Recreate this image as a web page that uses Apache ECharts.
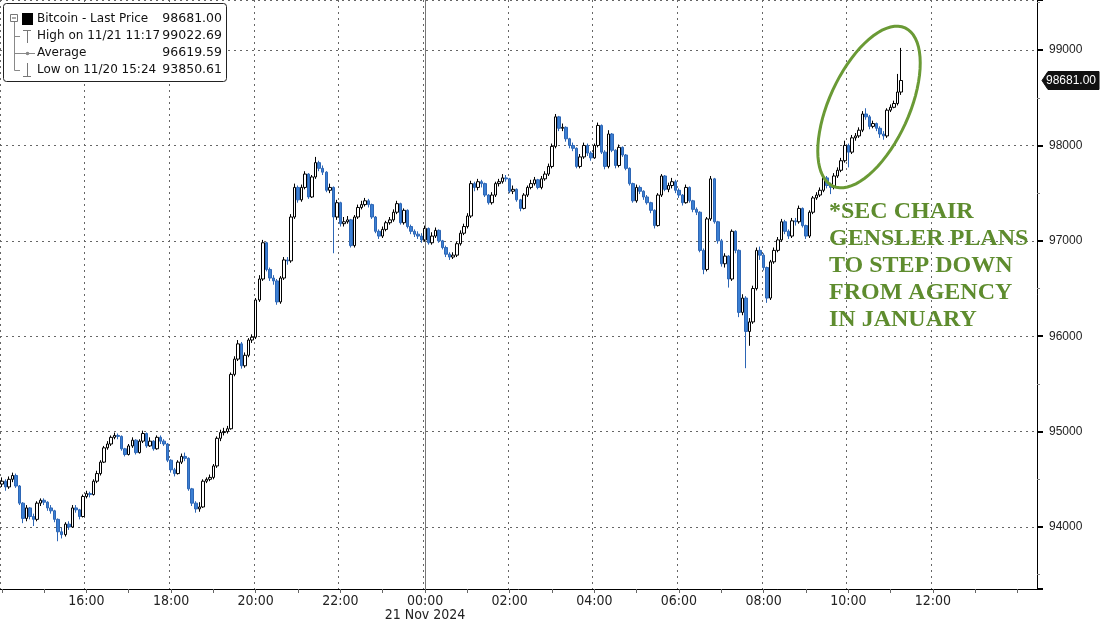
<!DOCTYPE html>
<html>
<head>
<meta charset="utf-8">
<script src="https://cdn.jsdelivr.net/npm/echarts@6/dist/echarts.min.js"></script>
<style>html,body{margin:0;padding:0;background:#fff}#c{width:1100px;height:623px}</style>
</head>
<body>
<div id="c"></div>
<script>
// 5-minute bars starting 11/20 14:00
const firstOpen = 94450;
const closes = [94480,94420,94500,94540,94430,94250,94090,94200,94110,94080,
94250,94280,94260,94200,94170,94080,93950,93920,94030,94000,
94200,94180,94110,94320,94350,94340,94480,94560,94680,94830,
94870,94940,94960,94950,94820,94760,94850,94910,94780,94900,
94980,94850,94900,94820,94940,94900,94870,94700,94600,94560,
94680,94740,94720,94400,94250,94190,94210,94480,94500,94520,
94640,94930,94990,95000,95030,95600,95760,95920,95690,95800,
95960,95990,96380,96600,96980,96700,96610,96580,96360,96610,
96800,96790,97250,97560,97430,97560,97700,97460,97670,97820,
97760,97720,97530,97560,97250,97400,97180,97200,97220,96950,
97250,97350,97380,97420,97380,97250,97100,97050,97120,97190,
97220,97300,97390,97190,97320,97150,97100,97070,97050,97010,
97130,96980,97050,97110,97000,96930,96860,96830,96850,96970,
97080,97150,97260,97600,97560,97620,97600,97480,97400,97480,
97600,97620,97660,97650,97520,97540,97430,97340,97480,97560,
97600,97640,97560,97650,97700,97780,97990,98300,98180,98190,
98070,98000,97970,97780,97880,98000,97920,97870,98000,98210,
97930,97780,98120,97950,97790,97980,97900,97760,97600,97420,
97560,97520,97460,97400,97320,97160,97480,97680,97540,97580,
97620,97530,97480,97400,97560,97420,97330,97300,96900,96700,
97230,97650,97200,97000,96760,96840,96600,97100,96900,96250,
96400,96050,96150,96500,96900,96850,96720,96400,96780,96900,
97010,97200,97100,97050,97210,97200,97340,97160,97050,97300,
97450,97480,97530,97660,97580,97560,97680,97740,97840,98000,
97930,98080,98100,98160,98330,98300,98200,98230,98180,98120,
98100,98370,98400,98440,98560,98681];
const highs = [94520,94500,94530,94570,94560,94440,94260,94230,94210,94140,
94270,94300,94300,94270,94230,94180,94090,93990,94050,94060,
94230,94230,94190,94340,94380,94370,94500,94590,94700,94850,
94900,94960,94990,94980,94960,94830,94870,94940,94920,94920,
95010,94990,94940,94910,94960,94960,94920,94880,94710,94620,
94700,94770,94780,94730,94410,94270,94260,94500,94520,94550,
94660,94950,95020,95040,95060,95620,95790,95960,95940,95830,
95980,96020,96400,96640,97010,96990,96720,96640,96600,96630,
96830,96830,97280,97600,97580,97590,97730,97710,97690,97880,
97840,97790,97730,97600,97570,97430,97410,97250,97260,97230,
97270,97380,97420,97450,97440,97390,97260,97120,97150,97210,
97250,97330,97420,97400,97340,97330,97170,97120,97100,97080,
97160,97140,97090,97140,97120,97010,96950,96880,96880,96990,
97110,97180,97290,97630,97620,97650,97640,97610,97490,97510,
97620,97650,97700,97690,97660,97580,97550,97440,97500,97580,
97640,97670,97650,97680,97730,97810,98020,98330,98310,98230,
98200,98080,98030,97980,97910,98030,98020,97940,98020,98240,
98220,97950,98160,98130,97960,98010,97990,97910,97770,97610,
97590,97580,97530,97480,97410,97330,97500,97700,97690,97610,
97660,97640,97550,97490,97590,97570,97430,97350,97310,96920,
97250,97680,97660,97210,97020,96870,96850,97120,97110,96910,
96440,96420,96190,96530,96930,96940,96870,96730,96800,96930,
97040,97230,97220,97120,97240,97240,97370,97350,97170,97320,
97470,97510,97560,97690,97680,97610,97710,97770,97870,98050,
98020,98110,98130,98190,98360,98390,98320,98260,98240,98200,
98150,98390,98430,98470,98750,99022.69];
const lows = [94420,94380,94400,94470,94410,94230,94040,94060,94080,94010,
94060,94220,94230,94170,94140,94050,93850.61,93880,93900,93970,
93990,94150,94080,94100,94300,94310,94330,94460,94540,94670,
94810,94850,94920,94920,94800,94740,94750,94830,94760,94770,
94880,94830,94840,94800,94810,94870,94850,94680,94570,94530,
94550,94660,94690,94380,94220,94150,94160,94200,94460,94480,
94500,94620,94900,94960,94980,95020,95580,95740,95660,95670,
95780,95930,95970,96360,96580,96680,96580,96540,96330,96340,
96590,96750,96770,97230,97400,97410,97540,97440,97450,97650,
97730,97690,97510,97500,96870,97220,97150,97150,97180,96930,
96930,97230,97330,97360,97350,97230,97080,97020,97030,97100,
97170,97200,97280,97170,97170,97130,97070,97040,97020,96980,
96990,96960,96960,97030,96980,96910,96830,96800,96810,96830,
96950,97060,97130,97240,97520,97530,97560,97460,97380,97380,
97460,97570,97600,97620,97500,97490,97410,97310,97330,97460,
97540,97580,97540,97540,97630,97680,97760,97970,98150,98150,
98040,97970,97940,97760,97760,97860,97890,97840,97860,97980,
97910,97750,97760,97930,97760,97770,97880,97740,97580,97400,
97400,97490,97430,97380,97290,97130,97150,97460,97520,97510,
97550,97500,97450,97370,97390,97400,97300,97270,96880,96650,
96680,97210,97180,96970,96730,96720,96510,96580,96870,96200,
96220,95665,95900,96130,96480,96800,96690,96350,96380,96760,
96880,96990,97070,97020,97030,97160,97180,97140,97020,97030,
97280,97430,97460,97510,97550,97490,97540,97660,97720,97820,
97770,97910,98050,98080,98140,98270,98170,98180,98150,98080,
98060,98080,98350,98390,98420,98530];

const legendLabels = ['Bitcoin - Last Price','High on 11/21 11:17','Average','Low on 11/20 15:24'];
const legendValues = ['98681.00','99022.69','96619.59','93850.61'];
const lastPrice = 98681.00;
const noteLines = ['*SEC CHAIR','GENSLER PLANS','TO STEP DOWN','FROM AGENCY','IN JANUARY'];
const dateLabel = '21 Nov 2024';
const yMin = 93350, yMax = 99525;

// categories: 5-minute slots 11/20 14:00 .. 11/21 14:25
const pad = n => (n < 10 ? '0' : '') + n;
const cats = [];
for (let k = 0; k < 294; k++) {
  const m = 14 * 60 + 5 * k;
  const d = m >= 1440 ? '11/21' : '11/20';
  const mm = m % 1440;
  cats.push(d + ' ' + pad(Math.floor(mm / 60)) + ':' + pad(mm % 60));
}
const candles = closes.map((c, i) => [i === 0 ? firstOpen : closes[i - 1], c, lows[i], highs[i]]);

const minuteOf = v => { const t = v.split(' ')[1].split(':'); return (+t[0]) * 60 + (+t[1]); };
const isLabelSlot = v => { const m = minuteOf(v); return m % 120 === 0 && m !== 14 * 60; };

const chart = echarts.init(document.getElementById('c'), null, {renderer: 'canvas'});
const green = '#5e8c2e';
const option = {
  animation: false,
  backgroundColor: '#fff',
  grid: {left: 0, right: 63, top: 0, bottom: 34, containLabel: false, outerBoundsMode: 'none'},
  xAxis: {
    type: 'category', data: cats, boundaryGap: true,
    axisLine: {lineStyle: {color: '#000', width: 1}},
    axisTick: {show: true, alignWithLabel: true, length: 4, lineStyle: {color: '#666'},
      interval: (i, v) => minuteOf(v) % 60 === 0},
    axisLabel: {
      interval: (i, v) => isLabelSlot(v),
      fontFamily: "'Liberation Sans Narrow', 'DejaVu Sans Condensed', sans-serif",
      fontSize: 14, color: '#222', margin: 5, lineHeight: 14,
      formatter: v => { const t = v.split(' ')[1]; return t === '00:00' ? t + '\n' + dateLabel : t; }
    },
    splitLine: {show: true, interval: (i, v) => isLabelSlot(v) || i === 0,
      lineStyle: {color: '#666', type: [2, 4], width: 1}}
  },
  yAxis: {
    type: 'value', position: 'right', min: yMin, max: yMax, splitNumber: 6, scale: true,
    axisLine: {show: true, lineStyle: {color: '#000', width: 1}},
    axisTick: {show: true, length: 6, lineStyle: {color: '#000', width: 2}},
    minorTick: {show: true, splitNumber: 2, length: 3, lineStyle: {color: '#888'}},
    axisLabel: {showMinLabel: false, showMaxLabel: false, color: '#222', fontSize: 12,
      fontFamily: "'Liberation Sans', sans-serif", margin: 12, formatter: v => String(v)},
    splitLine: {show: true, lineStyle: {color: '#666', type: [2, 4], width: 1}}
  },
  series: [{
    type: 'candlestick', data: candles, barWidth: 3,
    itemStyle: {color: '#ffffff', color0: '#3b7fd3', borderColor: '#000000', borderColor0: '#2d66b5', borderWidth: 1},
    markLine: {symbol: 'none', silent: true, label: {show: false},
      lineStyle: {color: '#777', type: 'solid', width: 1},
      data: [{xAxis: '11/21 00:00'}]}
  }]
};
chart.setOption(option);

// graphics (legend box, annotation, ellipse, last price tag)
const g = [];
g.push({type: 'rect', shape: {x: 3.5, y: 3.5, width: 223, height: 78, r: 3}, style: {fill: '#fff', stroke: '#222', lineWidth: 1}, z: 100});
const rowsY = [19, 36, 53, 70];
g.push({type: 'rect', shape: {x: 10.5, y: 14.5, width: 7, height: 7}, style: {fill: '#fff', stroke: '#777', lineWidth: 1}, z: 101});
g.push({type: 'line', shape: {x1: 12, y1: 18, x2: 16, y2: 18}, style: {stroke: '#555', lineWidth: 1}, z: 101});
g.push({type: 'line', shape: {x1: 14.5, y1: 22, x2: 14.5, y2: 70.5}, style: {stroke: '#888', lineWidth: 1}, z: 101});
[36, 53, 70].forEach(y => g.push({type: 'line', shape: {x1: 14.5, y1: y + 0.5, x2: 20, y2: y + 0.5}, style: {stroke: '#888', lineWidth: 1}, z: 101}));
g.push({type: 'rect', shape: {x: 22, y: 13, width: 11, height: 12}, style: {fill: '#000'}, z: 101});
g.push({type: 'line', shape: {x1: 23, y1: 30.5, x2: 31, y2: 30.5}, style: {stroke: '#777', lineWidth: 1}, z: 101});
g.push({type: 'line', shape: {x1: 27.5, y1: 30, x2: 27.5, y2: 43}, style: {stroke: '#777', lineWidth: 1}, z: 101});
g.push({type: 'line', shape: {x1: 20, y1: 53.5, x2: 35, y2: 53.5}, style: {stroke: '#888', lineWidth: 1}, z: 101});
g.push({type: 'circle', shape: {cx: 27.5, cy: 53.5, r: 1.8}, style: {fill: '#888'}, z: 101});
g.push({type: 'line', shape: {x1: 27.5, y1: 63, x2: 27.5, y2: 76}, style: {stroke: '#777', lineWidth: 1}, z: 101});
g.push({type: 'line', shape: {x1: 23, y1: 76.5, x2: 31, y2: 76.5}, style: {stroke: '#777', lineWidth: 1}, z: 101});
legendLabels.forEach((t, i) => {
  g.push({type: 'text', x: 37, y: rowsY[i], style: {text: t, fill: '#111', font: "12px 'DejaVu Sans', sans-serif", textVerticalAlign: 'middle', textAlign: 'left'}, z: 102});
  g.push({type: 'text', x: 222, y: rowsY[i], style: {text: legendValues[i], fill: '#111', font: "12.5px 'DejaVu Sans', sans-serif", textVerticalAlign: 'middle', textAlign: 'right'}, z: 102});
});
g.push({type: 'text', x: 829, y: 198, style: {text: noteLines.join('\n'), fill: green,
  font: "bold 24px 'Liberation Serif', 'DejaVu Serif', serif", lineHeight: 27, textAlign: 'left', textVerticalAlign: 'top'}, z: 50});
const ecx = 869, ecy = 107, ea = 87, eb = 40, ux = 0.415, uy = -0.909, vx = 0.909, vy = 0.415;
const pts = [];
for (let k = 0; k <= 72; k++) {
  const t = k / 72 * Math.PI * 2;
  pts.push([ecx + ea * Math.cos(t) * ux + eb * Math.sin(t) * vx, ecy + ea * Math.cos(t) * uy + eb * Math.sin(t) * vy]);
}
g.push({type: 'polygon', shape: {points: pts}, style: {fill: 'none', stroke: '#6a9a35', lineWidth: 3}, z: 50});
const py = chart.convertToPixel({yAxisIndex: 0}, lastPrice);
const ax = 1038;
g.push({type: 'polygon', shape: {points: [[ax + 4, py], [ax + 10, py - 9], [1099, py - 9], [1099, py + 9], [ax + 10, py + 9]]},
  style: {fill: '#111', stroke: '#111', lineWidth: 1}, z: 100});
g.push({type: 'text', x: 1071, y: py, style: {text: lastPrice.toFixed(2), fill: '#fff', font: "12px 'Liberation Sans', sans-serif", textAlign: 'center', textVerticalAlign: 'middle'}, z: 101});
chart.setOption({graphic: g});
</script>
</body>
</html>
